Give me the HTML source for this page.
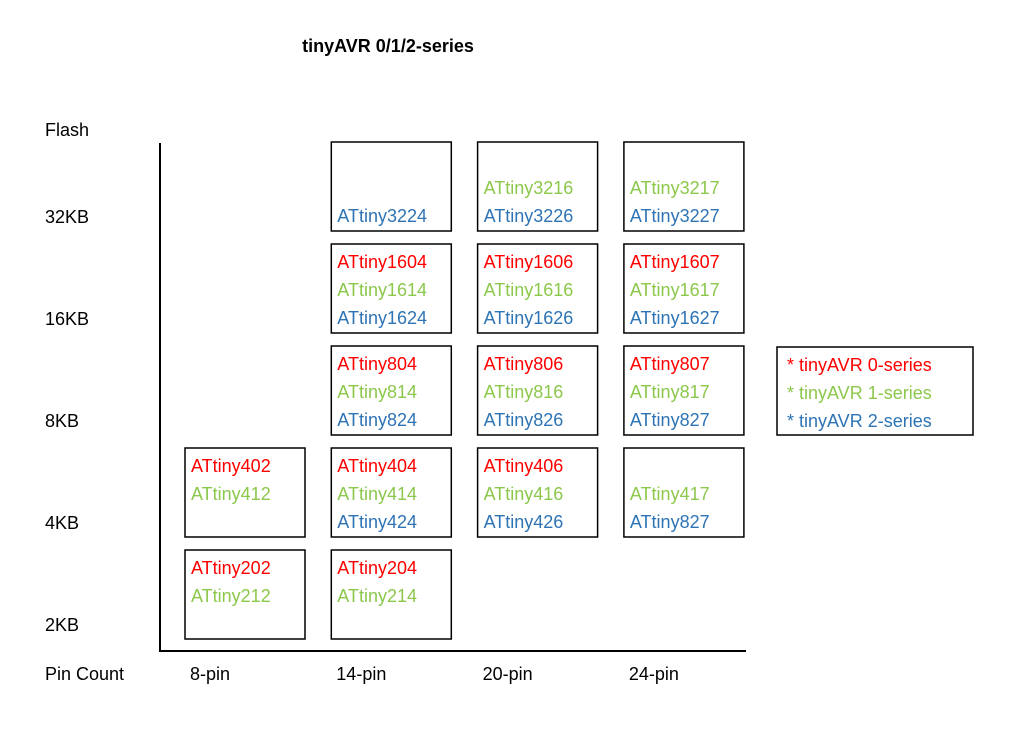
<!DOCTYPE html>
<html><head><meta charset="utf-8">
<style>
html,body{margin:0;padding:0;background:#fff;}
svg{display:block;font-family:"Liberation Sans",sans-serif;}
</style></head>
<body>
<svg id="chart" width="1024" height="735" viewBox="0 0 1024 735" xmlns="http://www.w3.org/2000/svg">
<text x="388" y="52" text-anchor="middle" font-size="18" font-weight="bold">tinyAVR 0/1/2-series</text>
<g id="axes"></g>
<g id="cells"></g>
<g id="legend"></g>
</svg>
<script>
const pinLabels = ["8-pin","14-pin","20-pin","24-pin"];
const flashLabels = ["2KB","4KB","8KB","16KB","32KB"];
const seriesNames = ["tinyAVR 0-series","tinyAVR 1-series","tinyAVR 2-series"];
const seriesColors = ["#ff0000","#8cc84b","#2e74b5"];
// cells: [pinIndex, flashIndex, chip names per series (null = absent)]
const cellPins =  [0,0,1,1,1,1,1,2,2,2,2,3,3,3,3];
const cellFlash = [0,1,0,1,2,3,4,1,2,3,4,1,2,3,4];
const cellChips = [
  ["ATtiny202","ATtiny212",null],
  ["ATtiny402","ATtiny412",null],
  ["ATtiny204","ATtiny214",null],
  ["ATtiny404","ATtiny414","ATtiny424"],
  ["ATtiny804","ATtiny814","ATtiny824"],
  ["ATtiny1604","ATtiny1614","ATtiny1624"],
  [null,null,"ATtiny3224"],
  ["ATtiny406","ATtiny416","ATtiny426"],
  ["ATtiny806","ATtiny816","ATtiny826"],
  ["ATtiny1606","ATtiny1616","ATtiny1626"],
  [null,"ATtiny3216","ATtiny3226"],
  [null,"ATtiny417","ATtiny827"],
  ["ATtiny807","ATtiny817","ATtiny827"],
  ["ATtiny1607","ATtiny1617","ATtiny1627"],
  [null,"ATtiny3217","ATtiny3227"]
];

const NS="http://www.w3.org/2000/svg";
function mk(tag, attrs, parent){const e=document.createElementNS(NS,tag);for(const k in attrs)e.setAttribute(k,attrs[k]);parent.appendChild(e);return e;}
const colX = i => 185 + i*146.3;
const rowY = j => 550 - j*102;   // top of box
const BW=120, BH=89;

const axes=document.getElementById('axes');
let l=mk('line',{x1:160,y1:143,x2:160,y2:651,stroke:'#000','stroke-width':2},axes);


l=mk('line',{x1:159,y1:651,x2:746,y2:651,stroke:'#000','stroke-width':2},axes);


let t=mk('text',{x:45,y:136,'font-size':18},axes);t.textContent='Flash';


t=mk('text',{x:45,y:680,'font-size':18},axes);t.textContent='Pin Count';


flashLabels.forEach((s,j)=>{
  const e=mk('text',{x:45,y:rowY(j)+81,'font-size':18},axes);e.textContent=s;
  
  
});
pinLabels.forEach((s,i)=>{
  const e=mk('text',{x:colX(i)+5,y:680,'font-size':18},axes);e.textContent=s;
  
  
});

const cells=document.getElementById('cells');
cellChips.forEach((chips,k)=>{
  const x=colX(cellPins[k]), y=rowY(cellFlash[k]);
  const g=mk('g',{},cells);
  
  
  const r=mk('rect',{x:x,y:y,width:BW,height:BH,fill:'none',stroke:'#000','stroke-width':1.5},g);
  
  
  chips.forEach((c,s)=>{
    if(!c) return;
    const e=mk('text',{x:x+6,y:y+24+s*28,'font-size':18,fill:seriesColors[s]},g);
    e.textContent=c;
    
    
  });
});

const lg=document.getElementById('legend');
const lr=mk('rect',{x:777,y:347,width:196,height:88,fill:'none',stroke:'#000','stroke-width':1.5},lg);


seriesNames.forEach((n,s)=>{
  const e=mk('text',{x:787,y:371+s*28,'font-size':18,fill:seriesColors[s]},lg);
  e.textContent='* '+n;
  
  
});
</script>
</body></html>
